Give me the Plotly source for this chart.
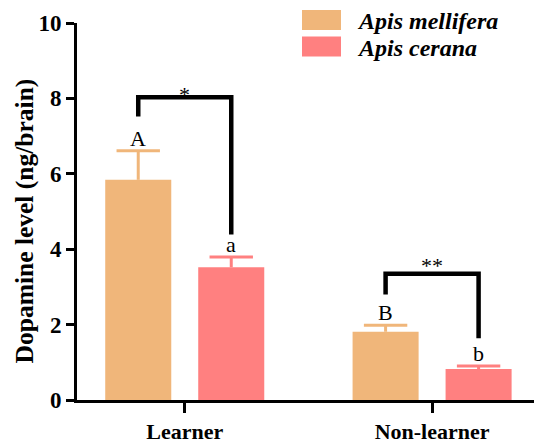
import plotly.graph_objects as go

# Dopamine level per brain, mean with upper error bar
groups = ["Learner", "Non-learner"]
species = ["Apis mellifera", "Apis cerana"]
colors = ["#F0B67A", "#FF8080"]
mean_mellifera = [5.84, 1.81]
err_mellifera = [0.77, 0.17]
mean_cerana = [3.52, 0.82]
err_cerana = [0.27, 0.08]
letters_mellifera = ["A", "B"]
letters_cerana = ["a", "b"]
significance = ["*", "**"]
# bracket levels: top bar, left leg end, right leg end
bracket_top = [8.03, 3.35]
bracket_left = [7.52, 2.80]
bracket_right = [4.39, 1.64]

FONT = "Liberation Serif"
W, H = 534, 444
ML, MR, MT, MB = 77, 0, 23, 41
BARGAP, GROUPGAP = 0.248, 0.29
offset = (1 - BARGAP) / 4  # distance from group centre to each bar centre

xs = list(range(len(groups)))

fig = go.Figure()
series = [
    (species[0], colors[0], mean_mellifera, err_mellifera, -offset),
    (species[1], colors[1], mean_cerana, err_cerana, offset),
]
for name, col, means, errs, dx in series:
    fig.add_trace(go.Bar(
        x=xs, y=means, name=name, marker=dict(color=col, line=dict(width=0)),
        showlegend=False,
    ))

# one-sided (upper) error bars: stem from bar top plus a cap
for name, col, means, errs, dx in series:
    sx, sy = [], []
    for i, m, e in zip(xs, means, errs):
        sx += [i + dx, i + dx, None]
        sy += [m, m + e, None]
    fig.add_trace(go.Scatter(x=sx, y=sy, mode="lines", line=dict(color=col, width=3),
                             showlegend=False, hoverinfo="skip"))
    fig.add_trace(go.Scatter(
        x=[i + dx for i in xs], y=[m + e for m, e in zip(means, errs)], mode="markers",
        marker=dict(symbol="line-ew", size=31, line=dict(color=col, width=3)),
        showlegend=False, hoverinfo="skip"))

annotations = []
shapes = []
star_shift = [3, 8]
for i in xs:
    xl, xr = i - offset, i + offset
    top_l = mean_mellifera[i] + err_mellifera[i]
    top_r = mean_cerana[i] + err_cerana[i]
    annotations.append(dict(x=xl, y=top_l, text=letters_mellifera[i], showarrow=False,
                            yanchor="bottom", yshift=-2, font=dict(family=FONT, size=22, color="black")))
    annotations.append(dict(x=xr, y=top_r, text=letters_cerana[i], showarrow=False,
                            yanchor="bottom", yshift=-2, font=dict(family=FONT, size=22, color="black")))
    shapes.append(dict(
        type="path", xref="x", yref="y",
        path=f"M{xl},{bracket_left[i]} L{xl},{bracket_top[i]} L{xr},{bracket_top[i]} L{xr},{bracket_right[i]}",
        line=dict(color="black", width=4.5),
    ))
    annotations.append(dict(x=i, y=bracket_top[i], text=significance[i], showarrow=False,
                            yanchor="middle", yshift=star_shift[i],
                            font=dict(family=FONT, size=22, color="black")))

# legend drawn as swatches + labels above the plot area
pw, ph = W - ML - MR, H - MT - MB
def px_x(px):
    return (px - ML) / pw
def px_y(py):
    return (H - MB - py) / ph

for k, (name, col) in enumerate(zip(species, colors)):
    y0 = 10 + k * 26.7
    shapes.append(dict(type="rect", xref="paper", yref="paper",
                       x0=px_x(302), x1=px_x(341), y0=px_y(y0 + 20), y1=px_y(y0),
                       fillcolor=col, line=dict(width=0)))
    annotations.append(dict(xref="paper", yref="paper", x=px_x(355), y=px_y(y0 + 11),
                            text=name, showarrow=False, xanchor="left", yanchor="middle",
                            font=dict(family=FONT, size=24, color="black", weight="bold", style="italic")))

# y-axis title
annotations.append(dict(xref="paper", yref="paper", x=px_x(24), y=px_y(223),
                        text="Dopamine level (ng/brain)", textangle=-90, showarrow=False,
                        xanchor="center", yanchor="middle",
                        font=dict(family=FONT, size=25.5, color="black", weight="bold")))

fig.update_layout(
    width=W, height=H,
    margin=dict(l=ML, r=MR, t=MT, b=MB, pad=0),
    plot_bgcolor="white", paper_bgcolor="white",
    barmode="group", bargap=BARGAP, bargroupgap=GROUPGAP,
    shapes=shapes, annotations=annotations,
    xaxis=dict(
        range=[-0.4356, 1.412], tickvals=xs, ticktext=groups,
        showline=True, linecolor="black", linewidth=3,
        ticks="outside", ticklen=10, tickwidth=3, tickcolor="black",
        showgrid=False, zeroline=False,
        tickfont=dict(family=FONT, size=22, color="black", weight="bold"),
    ),
    yaxis=dict(
        range=[0, 10], dtick=2,
        showline=True, linecolor="black", linewidth=3,
        ticks="outside", ticklen=8, tickwidth=3, tickcolor="black",
        showgrid=False, zeroline=False,
        tickfont=dict(family=FONT, size=23, color="black", weight="bold"),
    ),
)

fig.write_html("out.html")
